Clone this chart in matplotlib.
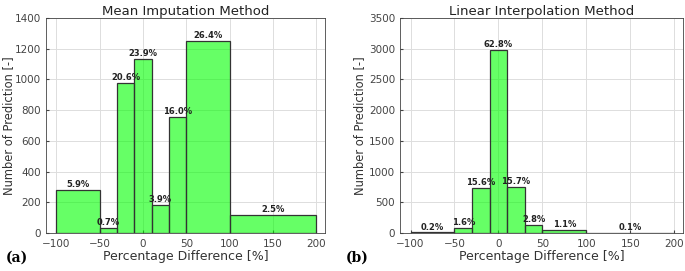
import numpy as np
import matplotlib
matplotlib.use("Agg")
import matplotlib.pyplot as plt

edges = [-100, -50, -30, -10, 10, 30, 50, 100, 200]
mean_counts = [280, 35, 975, 1135, 185, 755, 1250, 115]
mean_pct = ["5.9%", "0.7%", "20.6%", "23.9%", "3.9%", "16.0%", "26.4%", "2.5%"]
lin_counts = [9, 76, 738, 2985, 743, 132, 52, 5]
lin_pct = ["0.2%", "1.6%", "15.6%", "62.8%", "15.7%", "2.8%", "1.1%", "0.1%"]

xticks = [-100, -50, 0, 50, 100, 150, 200]

fig = plt.figure(figsize=(6.85, 2.71), dpi=100)
ax1 = fig.add_axes([46/685, 38/271, 279/685, 215/271])
ax2 = fig.add_axes([400/685, 38/271, 283/685, 215/271])

def draw(ax, counts, pct, ymax, yticks, title, labx):
    ed = np.array(edges)
    ax.bar(ed[:-1], counts, width=np.diff(ed), align="edge",
           color=(0.0, 1.0, 0.0, 0.6), edgecolor="#333333", linewidth=0.9, zorder=2)
    for l, w, c, p in zip(ed[:-1], np.diff(ed), counts, pct):
        ax.text(l + w/2, c + ymax*0.004, p, ha="center", va="bottom",
                fontsize=6, fontweight="bold", color="#222222", zorder=3)
    ax.set_xlim(-112, 210)
    ax.set_ylim(0, ymax)
    ax.set_xticks(xticks)
    ax.set_yticks(yticks)
    ax.grid(True, color="#dddddd", linewidth=0.7, zorder=0)
    ax.set_axisbelow(True)
    ax.tick_params(labelsize=7.5, colors="#444444", length=2, direction="in")
    ax.tick_params(axis="x", pad=4)
    for s in ax.spines.values():
        s.set_color("#444444")
        s.set_linewidth(0.6)
    ax.set_title(title, fontsize=9.5, color="#222222", pad=2)
    ax.set_xlabel("Percentage Difference [%]", fontsize=9, color="#333333", labelpad=1)
    ax.set_ylabel("Number of Prediction [-]", fontsize=8.3, color="#333333")
    ax.yaxis.set_label_coords(labx, 0.5)

draw(ax1, mean_counts, mean_pct, 1400, range(0, 1401, 200), "Mean Imputation Method", -0.112)
draw(ax2, lin_counts, lin_pct, 3500, range(0, 3501, 500), "Linear Interpolation Method", -0.12)

fig.text(6/685, 1 - 258/271, "(a)", fontsize=10, fontweight="bold", family="DejaVu Serif", va="center")
fig.text(346/685, 1 - 258/271, "(b)", fontsize=10, fontweight="bold", family="DejaVu Serif", va="center")

fig.savefig("out.png", dpi=100)
